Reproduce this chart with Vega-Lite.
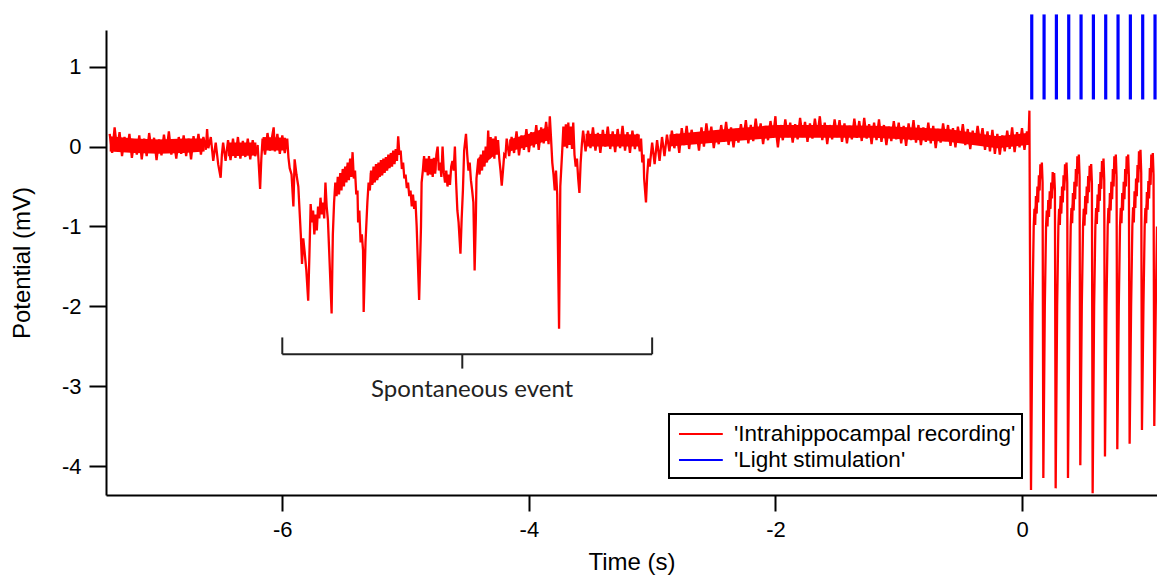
{
"$schema": "https://vega.github.io/schema/vega-lite/v6.json",
"width": 1051,
"height": 465,
"autosize": {"type": "none"},
"padding": {"left": 106, "top": 30, "right": 0, "bottom": 83},
"background": "white",
"datasets": {
"band": [
{"seg":1,"t":-7.40,"lo":-0.06,"hi":0.13},{"seg":1,"t":-7.20,"lo":-0.08,"hi":0.10},{"seg":1,"t":-7.00,"lo":-0.09,"hi":0.09},{"seg":1,"t":-6.80,"lo":-0.08,"hi":0.10},{"seg":1,"t":-6.63,"lo":-0.06,"hi":0.10},
{"seg":2,"t":-6.44,"lo":-0.12,"hi":0.05},{"seg":2,"t":-6.21,"lo":-0.11,"hi":0.05},
{"seg":3,"t":-6.16,"lo":-0.05,"hi":0.12},{"seg":3,"t":-5.97,"lo":-0.05,"hi":0.11},
{"seg":4,"t":-4.16,"lo":-0.06,"hi":0.09},{"seg":4,"t":-4.00,"lo":0.00,"hi":0.16},{"seg":4,"t":-3.84,"lo":0.08,"hi":0.25},
{"seg":5,"t":-3.54,"lo":0.00,"hi":0.16},{"seg":5,"t":-3.10,"lo":0.00,"hi":0.15},
{"seg":6,"t":-2.86,"lo":0.00,"hi":0.15},{"seg":6,"t":-2.40,"lo":0.06,"hi":0.22},{"seg":6,"t":-2.00,"lo":0.11,"hi":0.27},{"seg":6,"t":-1.60,"lo":0.11,"hi":0.27},{"seg":6,"t":-1.20,"lo":0.11,"hi":0.26},{"seg":6,"t":-0.60,"lo":0.06,"hi":0.22},{"seg":6,"t":-0.20,"lo":-0.02,"hi":0.13},{"seg":6,"t":0.04,"lo":0.02,"hi":0.17},
{"seg":10,"t":0.099,"lo":-0.95,"hi":-0.80},{"seg":10,"t":0.158,"lo":-0.38,"hi":-0.22},
{"seg":11,"t":0.199,"lo":-0.97,"hi":-0.82},{"seg":11,"t":0.258,"lo":-0.51,"hi":-0.35},
{"seg":12,"t":0.299,"lo":-0.95,"hi":-0.80},{"seg":12,"t":0.358,"lo":-0.38,"hi":-0.22},
{"seg":13,"t":0.399,"lo":-0.94,"hi":-0.79},{"seg":13,"t":0.458,"lo":-0.28,"hi":-0.12},
{"seg":14,"t":0.499,"lo":-0.95,"hi":-0.80},{"seg":14,"t":0.558,"lo":-0.40,"hi":-0.24},
{"seg":15,"t":0.599,"lo":-0.95,"hi":-0.80},{"seg":15,"t":0.658,"lo":-0.33,"hi":-0.17},
{"seg":16,"t":0.699,"lo":-0.94,"hi":-0.79},{"seg":16,"t":0.758,"lo":-0.28,"hi":-0.12},
{"seg":17,"t":0.799,"lo":-0.94,"hi":-0.79},{"seg":17,"t":0.858,"lo":-0.28,"hi":-0.12},
{"seg":18,"t":0.899,"lo":-0.93,"hi":-0.78},{"seg":18,"t":0.958,"lo":-0.22,"hi":-0.06},
{"seg":19,"t":0.999,"lo":-0.94,"hi":-0.79},{"seg":19,"t":1.058,"lo":-0.26,"hi":-0.10},
{"seg":20,"t":-5.55,"lo":-0.54,"hi":-0.40},{"seg":20,"t":-5.44,"lo":-0.30,"hi":-0.16},
{"seg":21,"t":-5.29,"lo":-0.50,"hi":-0.33},{"seg":21,"t":-5.07,"lo":-0.17,"hi":-0.05},
{"seg":22,"t":-4.86,"lo":-0.30,"hi":-0.16},{"seg":22,"t":-4.75,"lo":-0.30,"hi":-0.15},
{"seg":23,"t":-4.41,"lo":-0.28,"hi":-0.14},{"seg":23,"t":-4.25,"lo":-0.07,"hi":0.05},
{"seg":24,"t":-3.72,"lo":0.06,"hi":0.22},{"seg":24,"t":-3.64,"lo":0.05,"hi":0.22}
],
"trace": [
{"t":-7.40,"v":0.16},{"t":-7.38,"v":-0.08},{"t":-7.36,"v":0.24},{"t":-7.34,"v":-0.04},{"t":-7.32,"v":0.18},{"t":-7.30,"v":-0.12},{"t":-7.28,"v":0.12},{"t":-7.26,"v":-0.06},{"t":-7.24,"v":0.16},{"t":-7.22,"v":-0.14},
{"t":-7.20,"v":0.08},{"t":-7.18,"v":-0.10},{"t":-7.16,"v":0.14},{"t":-7.14,"v":-0.16},{"t":-7.12,"v":0.10},{"t":-7.10,"v":-0.12},{"t":-7.08,"v":0.17},{"t":-7.06,"v":-0.05},{"t":-7.04,"v":0.11},{"t":-7.02,"v":-0.17},
{"t":-7.00,"v":0.09},{"t":-6.98,"v":-0.11},{"t":-6.96,"v":0.15},{"t":-6.94,"v":-0.07},{"t":-6.92,"v":0.19},{"t":-6.90,"v":-0.10},{"t":-6.88,"v":0.08},{"t":-6.86,"v":-0.15},{"t":-6.84,"v":0.12},{"t":-6.82,"v":-0.09},
{"t":-6.80,"v":0.14},{"t":-6.78,"v":-0.12},{"t":-6.76,"v":0.10},{"t":-6.74,"v":-0.16},{"t":-6.72,"v":0.13},{"t":-6.70,"v":-0.06},{"t":-6.68,"v":0.16},{"t":-6.66,"v":-0.10},{"t":-6.64,"v":0.12},{"t":-6.62,"v":-0.04},
{"t":-6.61,"v":0.22},{"t":-6.60,"v":-0.02},{"t":-6.58,"v":0.12},{"t":-6.56,"v":-0.18},{"t":-6.54,"v":0.05},{"t":-6.52,"v":-0.22},{"t":-6.50,"v":-0.39},{"t":-6.49,"v":-0.10},{"t":-6.48,"v":0.05},{"t":-6.46,"v":-0.18},
{"t":-6.44,"v":0.08},{"t":-6.42,"v":-0.17},{"t":-6.40,"v":0.10},{"t":-6.38,"v":-0.14},{"t":-6.36,"v":0.12},{"t":-6.34,"v":-0.15},{"t":-6.32,"v":0.07},{"t":-6.30,"v":-0.13},{"t":-6.28,"v":0.10},{"t":-6.26,"v":-0.16},
{"t":-6.24,"v":0.08},{"t":-6.22,"v":-0.12},{"t":-6.20,"v":0.02},{"t":-6.19,"v":-0.25},{"t":-6.18,"v":-0.53},{"t":-6.17,"v":-0.15},{"t":-6.16,"v":0.10},{"t":-6.14,"v":-0.10},{"t":-6.12,"v":0.17},{"t":-6.10,"v":-0.05},
{"t":-6.08,"v":0.15},{"t":-6.07,"v":0.24},{"t":-6.06,"v":-0.06},{"t":-6.04,"v":0.16},{"t":-6.02,"v":-0.09},{"t":-6.00,"v":0.14},{"t":-5.98,"v":-0.08},{"t":-5.96,"v":0.10},{"t":-5.95,"v":-0.14},{"t":-5.94,"v":-0.27},
{"t":-5.925,"v":-0.35},{"t":-5.91,"v":-0.75},{"t":-5.90,"v":-0.16},{"t":-5.885,"v":-0.35},{"t":-5.87,"v":-0.50},{"t":-5.86,"v":-0.80},{"t":-5.85,"v":-1.10},{"t":-5.84,"v":-1.47},{"t":-5.83,"v":-1.15},{"t":-5.82,"v":-1.30},
{"t":-5.805,"v":-1.55},{"t":-5.79,"v":-1.93},{"t":-5.78,"v":-1.35},{"t":-5.77,"v":-0.72},{"t":-5.76,"v":-0.95},{"t":-5.75,"v":-0.80},{"t":-5.74,"v":-1.10},{"t":-5.73,"v":-0.85},{"t":-5.72,"v":-1.05},{"t":-5.71,"v":-0.75},
{"t":-5.70,"v":-0.90},{"t":-5.69,"v":-0.64},{"t":-5.68,"v":-0.85},{"t":-5.67,"v":-0.70},{"t":-5.66,"v":-0.90},{"t":-5.65,"v":-0.45},{"t":-5.64,"v":-0.75},{"t":-5.63,"v":-0.92},{"t":-5.62,"v":-1.30},{"t":-5.60,"v":-2.09},
{"t":-5.59,"v":-1.10},{"t":-5.58,"v":-0.70},{"t":-5.57,"v":-0.45},{"t":-5.56,"v":-0.62},{"t":-5.55,"v":-0.38},{"t":-5.54,"v":-0.60},{"t":-5.53,"v":-0.33},{"t":-5.52,"v":-0.55},{"t":-5.51,"v":-0.28},{"t":-5.50,"v":-0.50},
{"t":-5.49,"v":-0.25},{"t":-5.48,"v":-0.45},{"t":-5.47,"v":-0.20},{"t":-5.46,"v":-0.42},{"t":-5.45,"v":-0.15},{"t":-5.44,"v":-0.38},{"t":-5.43,"v":-0.07},{"t":-5.42,"v":-0.40},{"t":-5.41,"v":-0.30},{"t":-5.40,"v":-0.60},
{"t":-5.39,"v":-0.55},{"t":-5.385,"v":-0.95},{"t":-5.375,"v":-0.80},{"t":-5.365,"v":-1.20},{"t":-5.355,"v":-1.10},{"t":-5.345,"v":-1.30},{"t":-5.34,"v":-2.07},{"t":-5.325,"v":-1.20},{"t":-5.31,"v":-0.70},{"t":-5.30,"v":-0.45},
{"t":-5.29,"v":-0.55},{"t":-5.28,"v":-0.30},{"t":-5.27,"v":-0.48},{"t":-5.26,"v":-0.25},{"t":-5.25,"v":-0.45},{"t":-5.24,"v":-0.22},{"t":-5.23,"v":-0.42},{"t":-5.22,"v":-0.20},{"t":-5.21,"v":-0.38},{"t":-5.20,"v":-0.17},
{"t":-5.19,"v":-0.36},{"t":-5.18,"v":-0.15},{"t":-5.17,"v":-0.33},{"t":-5.16,"v":-0.13},{"t":-5.15,"v":-0.30},{"t":-5.14,"v":-0.10},{"t":-5.13,"v":-0.27},{"t":-5.12,"v":-0.08},{"t":-5.11,"v":-0.25},{"t":-5.10,"v":-0.05},
{"t":-5.09,"v":-0.22},{"t":-5.08,"v":-0.03},{"t":-5.07,"v":-0.18},{"t":-5.06,"v":0.13},{"t":-5.05,"v":-0.10},{"t":-5.04,"v":-0.05},{"t":-5.03,"v":-0.28},{"t":-5.02,"v":-0.20},{"t":-5.01,"v":-0.40},{"t":-5.00,"v":-0.35},
{"t":-4.99,"v":-0.52},{"t":-4.98,"v":-0.45},{"t":-4.97,"v":-0.62},{"t":-4.96,"v":-0.55},{"t":-4.95,"v":-0.75},{"t":-4.94,"v":-0.60},{"t":-4.93,"v":-0.78},{"t":-4.92,"v":-0.68},{"t":-4.91,"v":-1.00},{"t":-4.89,"v":-1.92},
{"t":-4.875,"v":-1.00},{"t":-4.87,"v":-0.45},{"t":-4.86,"v":-0.30},{"t":-4.85,"v":-0.12},{"t":-4.84,"v":-0.32},{"t":-4.83,"v":-0.15},{"t":-4.82,"v":-0.36},{"t":-4.81,"v":-0.12},{"t":-4.80,"v":-0.35},{"t":-4.79,"v":-0.18},
{"t":-4.78,"v":-0.38},{"t":-4.77,"v":-0.14},{"t":-4.76,"v":-0.34},{"t":-4.75,"v":-0.10},{"t":-4.74,"v":0.00},{"t":-4.73,"v":-0.30},{"t":-4.72,"v":-0.20},{"t":-4.71,"v":-0.38},{"t":-4.70,"v":0.00},{"t":-4.69,"v":-0.32},
{"t":-4.68,"v":-0.45},{"t":-4.67,"v":-0.30},{"t":-4.66,"v":-0.50},{"t":-4.65,"v":-0.35},{"t":-4.64,"v":-0.48},{"t":-4.63,"v":-0.25},{"t":-4.62,"v":-0.18},{"t":-4.61,"v":-0.30},{"t":-4.60,"v":0.00},{"t":-4.59,"v":-0.45},
{"t":-4.58,"v":-0.80},{"t":-4.57,"v":-0.95},{"t":-4.555,"v":-1.34},{"t":-4.545,"v":-0.90},{"t":-4.535,"v":-0.55},{"t":-4.525,"v":-0.05},{"t":-4.51,"v":0.16},{"t":-4.50,"v":-0.10},{"t":-4.49,"v":-0.30},{"t":-4.48,"v":-0.20},
{"t":-4.47,"v":-0.42},{"t":-4.46,"v":-0.55},{"t":-4.45,"v":-0.70},{"t":-4.44,"v":-1.55},{"t":-4.43,"v":-0.90},{"t":-4.425,"v":-0.40},{"t":-4.41,"v":-0.15},{"t":-4.40,"v":-0.35},{"t":-4.39,"v":-0.10},{"t":-4.38,"v":-0.30},
{"t":-4.37,"v":-0.05},{"t":-4.36,"v":-0.25},{"t":-4.35,"v":0.00},{"t":-4.34,"v":-0.20},{"t":-4.33,"v":0.20},{"t":-4.32,"v":-0.15},{"t":-4.31,"v":0.12},{"t":-4.30,"v":-0.12},{"t":-4.29,"v":0.10},{"t":-4.28,"v":-0.15},
{"t":-4.27,"v":0.13},{"t":-4.26,"v":-0.10},{"t":-4.25,"v":0.08},{"t":-4.24,"v":-0.15},{"t":-4.23,"v":-0.30},{"t":-4.22,"v":-0.49},{"t":-4.21,"v":-0.30},{"t":-4.20,"v":-0.10},{"t":-4.19,"v":-0.12},{"t":-4.18,"v":0.10},
{"t":-4.16,"v":-0.12},{"t":-4.14,"v":0.12},{"t":-4.12,"v":-0.08},{"t":-4.10,"v":0.19},{"t":-4.08,"v":-0.11},{"t":-4.06,"v":0.14},{"t":-4.04,"v":-0.04},{"t":-4.02,"v":0.22},{"t":-4.00,"v":-0.07},{"t":-3.98,"v":0.18},
{"t":-3.96,"v":-0.01},{"t":-3.94,"v":0.27},{"t":-3.92,"v":-0.04},{"t":-3.90,"v":0.24},{"t":-3.88,"v":0.04},{"t":-3.86,"v":0.31},{"t":-3.84,"v":0.03},{"t":-3.83,"v":0.38},{"t":-3.82,"v":0.10},{"t":-3.81,"v":-0.20},
{"t":-3.80,"v":-0.35},{"t":-3.79,"v":-0.55},{"t":-3.78,"v":-0.30},{"t":-3.77,"v":-0.60},{"t":-3.755,"v":-2.28},{"t":-3.745,"v":-0.50},{"t":-3.73,"v":-0.07},{"t":-3.72,"v":0.25},{"t":-3.71,"v":0.00},{"t":-3.70,"v":0.28},
{"t":-3.69,"v":-0.02},{"t":-3.68,"v":0.30},{"t":-3.67,"v":0.02},{"t":-3.66,"v":0.25},{"t":-3.65,"v":-0.03},{"t":-3.64,"v":0.30},{"t":-3.63,"v":-0.10},{"t":-3.62,"v":-0.25},{"t":-3.61,"v":-0.15},{"t":-3.60,"v":-0.40},
{"t":-3.59,"v":-0.58},{"t":-3.58,"v":-0.20},{"t":-3.57,"v":0.03},{"t":-3.56,"v":0.20},{"t":-3.54,"v":-0.06},{"t":-3.52,"v":0.20},{"t":-3.50,"v":-0.02},{"t":-3.48,"v":0.24},{"t":-3.46,"v":-0.05},{"t":-3.44,"v":0.17},
{"t":-3.42,"v":-0.08},{"t":-3.40,"v":0.21},{"t":-3.38,"v":0.00},{"t":-3.36,"v":0.25},{"t":-3.34,"v":-0.03},{"t":-3.32,"v":0.19},{"t":-3.30,"v":-0.07},{"t":-3.28,"v":0.22},{"t":-3.26,"v":-0.02},{"t":-3.24,"v":0.26},
{"t":-3.22,"v":-0.05},{"t":-3.20,"v":0.18},{"t":-3.18,"v":-0.08},{"t":-3.16,"v":0.20},{"t":-3.14,"v":-0.03},{"t":-3.12,"v":0.16},{"t":-3.10,"v":-0.06},{"t":-3.09,"v":0.10},{"t":-3.08,"v":-0.20},{"t":-3.07,"v":-0.10},
{"t":-3.065,"v":-0.40},{"t":-3.05,"v":-0.70},{"t":-3.04,"v":-0.35},{"t":-3.03,"v":-0.15},{"t":-3.02,"v":-0.25},{"t":-3.00,"v":0.05},{"t":-2.98,"v":-0.22},{"t":-2.96,"v":0.08},{"t":-2.94,"v":-0.18},{"t":-2.92,"v":0.12},
{"t":-2.90,"v":-0.12},{"t":-2.88,"v":0.15},{"t":-2.86,"v":-0.06},{"t":-2.84,"v":0.20},{"t":-2.82,"v":-0.02},{"t":-2.80,"v":0.16},{"t":-2.78,"v":-0.08},{"t":-2.76,"v":0.23},{"t":-2.74,"v":0.02},{"t":-2.72,"v":0.26},
{"t":-2.70,"v":-0.03},{"t":-2.68,"v":0.21},{"t":-2.66,"v":0.04},{"t":-2.64,"v":0.18},{"t":-2.62,"v":-0.05},{"t":-2.60,"v":0.24},{"t":-2.58,"v":0.00},{"t":-2.56,"v":0.29},{"t":-2.54,"v":0.05},{"t":-2.52,"v":0.25},
{"t":-2.50,"v":-0.02},{"t":-2.48,"v":0.20},{"t":-2.46,"v":0.03},{"t":-2.44,"v":0.27},{"t":-2.42,"v":0.06},{"t":-2.40,"v":0.31},{"t":-2.38,"v":0.02},{"t":-2.36,"v":0.24},{"t":-2.34,"v":-0.01},{"t":-2.32,"v":0.22},
{"t":-2.30,"v":0.05},{"t":-2.28,"v":0.28},{"t":-2.26,"v":0.09},{"t":-2.24,"v":0.33},{"t":-2.22,"v":0.04},{"t":-2.20,"v":0.27},{"t":-2.18,"v":0.07},{"t":-2.16,"v":0.35},{"t":-2.14,"v":0.10},{"t":-2.12,"v":0.29},
{"t":-2.10,"v":0.03},{"t":-2.08,"v":0.26},{"t":-2.06,"v":0.08},{"t":-2.04,"v":0.32},{"t":-2.02,"v":0.11},{"t":-2.00,"v":0.38},{"t":-1.99,"v":0.12},{"t":-1.98,"v":-0.01},{"t":-1.96,"v":0.27},{"t":-1.94,"v":0.08},
{"t":-1.92,"v":0.34},{"t":-1.90,"v":0.12},{"t":-1.88,"v":0.30},{"t":-1.86,"v":0.05},{"t":-1.84,"v":0.28},{"t":-1.82,"v":0.09},{"t":-1.80,"v":0.36},{"t":-1.78,"v":0.12},{"t":-1.76,"v":0.31},{"t":-1.74,"v":0.06},
{"t":-1.72,"v":0.29},{"t":-1.70,"v":0.10},{"t":-1.68,"v":0.35},{"t":-1.66,"v":0.13},{"t":-1.64,"v":0.38},{"t":-1.62,"v":0.08},{"t":-1.60,"v":0.30},{"t":-1.58,"v":0.03},{"t":-1.56,"v":0.27},{"t":-1.54,"v":0.09},
{"t":-1.52,"v":0.34},{"t":-1.50,"v":0.12},{"t":-1.48,"v":0.33},{"t":-1.46,"v":0.06},{"t":-1.44,"v":0.29},{"t":-1.42,"v":0.04},{"t":-1.40,"v":0.26},{"t":-1.38,"v":0.09},{"t":-1.36,"v":0.35},{"t":-1.34,"v":0.11},
{"t":-1.32,"v":0.32},{"t":-1.30,"v":0.07},{"t":-1.28,"v":0.36},{"t":-1.26,"v":0.10},{"t":-1.24,"v":0.28},{"t":-1.22,"v":0.03},{"t":-1.20,"v":0.30},{"t":-1.18,"v":0.08},{"t":-1.16,"v":0.34},{"t":-1.14,"v":0.06},
{"t":-1.12,"v":0.27},{"t":-1.10,"v":0.02},{"t":-1.08,"v":0.25},{"t":-1.06,"v":0.07},{"t":-1.04,"v":0.32},{"t":-1.02,"v":0.09},{"t":-1.00,"v":0.30},{"t":-0.98,"v":0.04},{"t":-0.96,"v":0.26},{"t":-0.94,"v":0.01},
{"t":-0.92,"v":0.29},{"t":-0.90,"v":0.08},{"t":-0.88,"v":0.33},{"t":-0.86,"v":0.05},{"t":-0.84,"v":0.27},{"t":-0.82,"v":0.02},{"t":-0.80,"v":0.24},{"t":-0.78,"v":0.06},{"t":-0.76,"v":0.30},{"t":-0.74,"v":0.04},
{"t":-0.72,"v":0.26},{"t":-0.70,"v":-0.02},{"t":-0.68,"v":0.22},{"t":-0.66,"v":0.05},{"t":-0.64,"v":0.29},{"t":-0.62,"v":0.07},{"t":-0.60,"v":0.27},{"t":-0.58,"v":0.01},{"t":-0.56,"v":0.23},{"t":-0.54,"v":-0.01},
{"t":-0.52,"v":0.25},{"t":-0.50,"v":0.05},{"t":-0.48,"v":0.28},{"t":-0.46,"v":0.02},{"t":-0.44,"v":0.22},{"t":-0.42,"v":-0.03},{"t":-0.40,"v":0.20},{"t":-0.38,"v":0.03},{"t":-0.36,"v":0.26},{"t":-0.34,"v":0.04},
{"t":-0.32,"v":0.23},{"t":-0.30,"v":-0.04},{"t":-0.28,"v":0.19},{"t":-0.26,"v":-0.06},{"t":-0.24,"v":0.21},{"t":-0.22,"v":-0.09},{"t":-0.20,"v":0.16},{"t":-0.18,"v":-0.10},{"t":-0.16,"v":0.14},{"t":-0.14,"v":-0.06},
{"t":-0.12,"v":0.20},{"t":-0.10,"v":-0.03},{"t":-0.08,"v":0.24},{"t":-0.06,"v":-0.07},{"t":-0.04,"v":0.18},{"t":-0.02,"v":-0.01},{"t":0.00,"v":0.23},{"t":0.02,"v":-0.04},{"t":0.04,"v":0.19},{"t":0.05,"v":0.02},
{"t":0.055,"v":0.18},{"t":0.06,"v":0.45},
{"t":0.073,"v":-4.30},{"t":0.085,"v":-2.0},{"t":0.095,"v":-1.0},{"t":0.101,"v":-0.78},{"t":0.107,"v":-0.98},{"t":0.113,"v":-0.62},{"t":0.119,"v":-0.84},{"t":0.125,"v":-0.50},{"t":0.131,"v":-0.70},{"t":0.137,"v":-0.36},{"t":0.143,"v":-0.55},{"t":0.149,"v":-0.22},{"t":0.155,"v":-0.40},{"t":0.161,"v":-0.20},{"t":0.167,"v":-0.45},
{"t":0.173,"v":-4.15},{"t":0.185,"v":-2.0},{"t":0.195,"v":-1.0},{"t":0.201,"v":-0.80},{"t":0.207,"v":-1.00},{"t":0.213,"v":-0.67},{"t":0.219,"v":-0.88},{"t":0.225,"v":-0.56},{"t":0.231,"v":-0.78},{"t":0.237,"v":-0.45},{"t":0.243,"v":-0.65},{"t":0.249,"v":-0.32},{"t":0.255,"v":-0.52},{"t":0.261,"v":-0.33},{"t":0.267,"v":-0.55},
{"t":0.273,"v":-4.28},{"t":0.285,"v":-2.0},{"t":0.295,"v":-1.0},{"t":0.301,"v":-0.78},{"t":0.307,"v":-0.98},{"t":0.313,"v":-0.62},{"t":0.319,"v":-0.84},{"t":0.325,"v":-0.50},{"t":0.331,"v":-0.70},{"t":0.337,"v":-0.36},{"t":0.343,"v":-0.55},{"t":0.349,"v":-0.22},{"t":0.355,"v":-0.40},{"t":0.361,"v":-0.20},{"t":0.367,"v":-0.45},
{"t":0.373,"v":-4.15},{"t":0.385,"v":-2.0},{"t":0.395,"v":-1.0},{"t":0.401,"v":-0.77},{"t":0.407,"v":-0.96},{"t":0.413,"v":-0.58},{"t":0.419,"v":-0.80},{"t":0.425,"v":-0.44},{"t":0.431,"v":-0.66},{"t":0.437,"v":-0.28},{"t":0.443,"v":-0.50},{"t":0.449,"v":-0.12},{"t":0.455,"v":-0.34},{"t":0.461,"v":-0.10},{"t":0.467,"v":-0.38},
{"t":0.473,"v":-3.99},{"t":0.485,"v":-2.0},{"t":0.495,"v":-1.0},{"t":0.501,"v":-0.78},{"t":0.507,"v":-0.99},{"t":0.513,"v":-0.62},{"t":0.519,"v":-0.85},{"t":0.525,"v":-0.50},{"t":0.531,"v":-0.71},{"t":0.537,"v":-0.37},{"t":0.543,"v":-0.57},{"t":0.549,"v":-0.24},{"t":0.555,"v":-0.42},{"t":0.561,"v":-0.22},{"t":0.567,"v":-0.46},
{"t":0.573,"v":-4.34},{"t":0.585,"v":-2.0},{"t":0.595,"v":-1.0},{"t":0.601,"v":-0.77},{"t":0.607,"v":-0.97},{"t":0.613,"v":-0.60},{"t":0.619,"v":-0.82},{"t":0.625,"v":-0.47},{"t":0.631,"v":-0.68},{"t":0.637,"v":-0.32},{"t":0.643,"v":-0.53},{"t":0.649,"v":-0.18},{"t":0.655,"v":-0.38},{"t":0.661,"v":-0.15},{"t":0.667,"v":-0.42},
{"t":0.673,"v":-3.88},{"t":0.685,"v":-2.0},{"t":0.695,"v":-1.0},{"t":0.701,"v":-0.77},{"t":0.707,"v":-0.96},{"t":0.713,"v":-0.58},{"t":0.719,"v":-0.80},{"t":0.725,"v":-0.44},{"t":0.731,"v":-0.66},{"t":0.737,"v":-0.28},{"t":0.743,"v":-0.50},{"t":0.749,"v":-0.12},{"t":0.755,"v":-0.34},{"t":0.761,"v":-0.10},{"t":0.767,"v":-0.38},
{"t":0.773,"v":-3.79},{"t":0.785,"v":-2.0},{"t":0.795,"v":-1.0},{"t":0.801,"v":-0.77},{"t":0.807,"v":-0.96},{"t":0.813,"v":-0.58},{"t":0.819,"v":-0.80},{"t":0.825,"v":-0.44},{"t":0.831,"v":-0.66},{"t":0.837,"v":-0.28},{"t":0.843,"v":-0.50},{"t":0.849,"v":-0.12},{"t":0.855,"v":-0.34},{"t":0.861,"v":-0.10},{"t":0.867,"v":-0.38},
{"t":0.873,"v":-3.72},{"t":0.885,"v":-2.0},{"t":0.895,"v":-1.0},{"t":0.901,"v":-0.76},{"t":0.907,"v":-0.95},{"t":0.913,"v":-0.56},{"t":0.919,"v":-0.77},{"t":0.925,"v":-0.40},{"t":0.931,"v":-0.62},{"t":0.937,"v":-0.23},{"t":0.943,"v":-0.45},{"t":0.949,"v":-0.06},{"t":0.955,"v":-0.28},{"t":0.961,"v":-0.04},{"t":0.967,"v":-0.33},
{"t":0.973,"v":-3.55},{"t":0.985,"v":-2.0},{"t":0.995,"v":-1.0},{"t":1.001,"v":-0.77},{"t":1.007,"v":-0.96},{"t":1.013,"v":-0.57},{"t":1.019,"v":-0.79},{"t":1.025,"v":-0.43},{"t":1.031,"v":-0.65},{"t":1.037,"v":-0.27},{"t":1.043,"v":-0.48},{"t":1.049,"v":-0.10},{"t":1.055,"v":-0.32},{"t":1.061,"v":-0.08},{"t":1.067,"v":-0.36},
{"t":1.073,"v":-3.50},{"t":1.085,"v":-2.0},{"t":1.095,"v":-1.0}
],
"pulses": [
{"t":0.079,"lo":0.59,"hi":1.655},{"t":0.179,"lo":0.59,"hi":1.655},{"t":0.279,"lo":0.59,"hi":1.655},{"t":0.379,"lo":0.59,"hi":1.655},{"t":0.479,"lo":0.59,"hi":1.655},{"t":0.579,"lo":0.59,"hi":1.655},{"t":0.679,"lo":0.59,"hi":1.655},{"t":0.779,"lo":0.59,"hi":1.655},{"t":0.879,"lo":0.59,"hi":1.655},{"t":0.979,"lo":0.59,"hi":1.655},{"t":1.079,"lo":0.59,"hi":1.655}
],
"bracket": [
{"x1":-6,"x2":-3,"y1":-2.60,"y2":-2.60},
{"x1":-6,"x2":-6,"y1":-2.39,"y2":-2.60},
{"x1":-3,"x2":-3,"y1":-2.39,"y2":-2.60},
{"x1":-4.54,"x2":-4.54,"y1":-2.60,"y2":-2.78}
],
"note": [
{"t":-4.46,"v":-3.05,"label":"Spontaneous event"}
]
},
"layer": [
{
"data": {"name": "band"},
"mark": {"type": "area", "color": "#ff0000", "opacity": 1},
"encoding": {
"x": {"field": "t", "type": "quantitative"},
"y": {"field": "lo", "type": "quantitative"},
"y2": {"field": "hi"},
"detail": {"field": "seg", "type": "nominal"}
}
},
{
"data": {"name": "trace"},
"mark": {"type": "line", "strokeWidth": 2.3, "clip": true},
"encoding": {
"x": {"field": "t", "type": "quantitative", "scale": {"domain": [-7.43, 1.095], "nice": false, "zero": false},
"axis": {"values": [-6, -4, -2, 0], "title": "Time (s)", "tickSize": 16, "labelPadding": 8, "labelFontSize": 22, "titleFontSize": 24, "titlePadding": 10,
"labelExpr": "datum.value < 0 ? '-' + abs(datum.value) : '' + datum.value"}},
"y": {"field": "v", "type": "quantitative", "scale": {"domain": [-4.363, 1.46], "nice": false, "zero": false},
"axis": {"values": [-4, -3, -2, -1, 0, 1], "title": "Potential (mV)", "tickSize": 17, "labelPadding": 8, "labelFontSize": 22, "titleFontSize": 24, "titlePadding": 27,
"labelExpr": "datum.value < 0 ? '-' + abs(datum.value) : '' + datum.value"}},
"color": {"datum": "'Intrahippocampal recording'", "type": "nominal",
"scale": {"domain": ["'Intrahippocampal recording'", "'Light stimulation'"], "range": ["#ff0000", "#0000ff"]},
"legend": {"title": null}}
}
},
{
"data": {"name": "pulses"},
"mark": {"type": "rule", "strokeWidth": 3.2},
"encoding": {
"x": {"field": "t", "type": "quantitative"},
"y": {"field": "lo", "type": "quantitative"},
"y2": {"field": "hi"},
"color": {"datum": "'Light stimulation'", "type": "nominal"}
}
},
{
"data": {"name": "bracket"},
"mark": {"type": "rule", "strokeWidth": 2, "color": "#222222"},
"encoding": {
"x": {"field": "x1", "type": "quantitative"},
"x2": {"field": "x2"},
"y": {"field": "y1", "type": "quantitative"},
"y2": {"field": "y2"}
}
},
{
"data": {"name": "note"},
"mark": {"type": "text", "font": "Lato", "fontSize": 24, "color": "#222222", "align": "center", "baseline": "middle"},
"encoding": {
"x": {"field": "t", "type": "quantitative"},
"y": {"field": "v", "type": "quantitative"},
"text": {"field": "label"}
}
}
],
"config": {
"view": {"stroke": null},
"axis": {"grid": false, "domainColor": "black", "domainWidth": 2, "tickColor": "black", "tickWidth": 2,
"labelColor": "black", "titleColor": "black", "labelFont": "Liberation Sans", "titleFont": "Liberation Sans", "titleFontWeight": "normal"},
"legend": {"orient": "none", "legendX": 563, "legendY": 384, "symbolType": "M-0.77,0H2.6", "symbolSize": 676, "symbolStrokeWidth": 2,
"labelFont": "Liberation Sans", "labelFontSize": 22.5, "labelColor": "black", "labelLimit": 400, "labelOffset": 31,
"strokeColor": "black", "strokeWidth": 2, "fillColor": "white", "padding": 6, "rowPadding": 0}
}
}
